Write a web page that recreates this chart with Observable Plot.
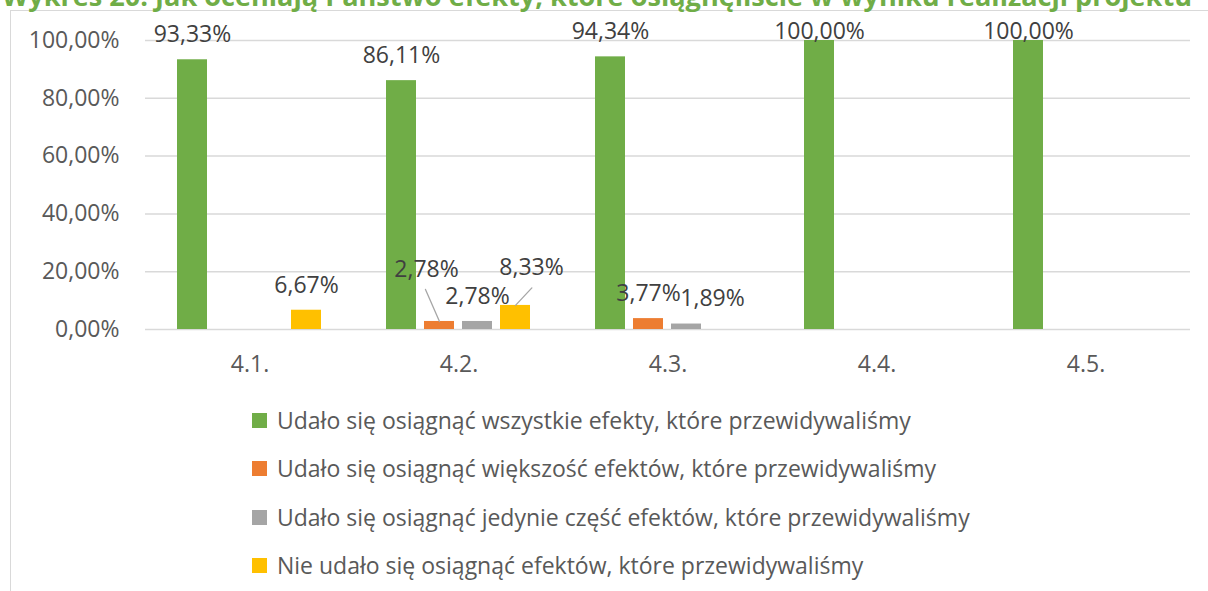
<!DOCTYPE html>
<html>
<head>
<meta charset="utf-8">
<script src="https://cdn.jsdelivr.net/npm/d3@7"></script>
<script src="https://cdn.jsdelivr.net/npm/@observablehq/plot@0.6"></script>
<style>
  html, body { margin: 0; padding: 0; background: #fff; overflow: hidden; }
  #page { position: relative; width: 1208px; height: 591px; overflow: hidden; font-family: "Open Sans", sans-serif; }
  #frame { position: absolute; left: 10px; top: 10px; width: 1400px; height: 800px; border: 1.5px solid #d9d9d9; box-sizing: border-box; }
  #title { position: absolute; left: 2px; top: -15px; font-weight: bold; color: #70ad47; font-size: 24px; line-height: 24px; white-space: nowrap; }
  #chart { position: absolute; left: 0; top: 0; }
  #legend { position: absolute; left: 252px; top: 0; }
  .item { position: absolute; left: 0; display: flex; align-items: center; white-space: nowrap; color: #595959; font-size: 23px; transform: translateY(-50%); }
  .sw { width: 15px; height: 15px; margin-right: 10px; flex: none; }
</style>
</head>
<body>
<div id="page">
  <div id="frame"></div>
  <div id="title"></div>
  <div id="chart"></div>
  <div id="legend"></div>
</div>
<script>
const titleText = "Wykres 20. Jak oceniają Państwo efekty, które osiągnęliście w wyniku realizacji projektu";
const categories = ["4.1.", "4.2.", "4.3.", "4.4.", "4.5."];
const seriesNames = [
  "Udało się osiągnąć wszystkie efekty, które przewidywaliśmy",
  "Udało się osiągnąć większość efektów, które przewidywaliśmy",
  "Udało się osiągnąć jedynie część efektów, które przewidywaliśmy",
  "Nie udało się osiągnąć efektów, które przewidywaliśmy"
];
const seriesColors = ["#70AD47", "#ED7D31", "#A5A5A5", "#FFC000"];
const allEffects  = [93.33, 86.11, 94.34, 100, 100];
const mostEffects = [0, 2.78, 3.77, 0, 0];
const partEffects = [0, 2.78, 1.89, 0, 0];
const noEffects   = [6.67, 8.33, 0, 0, 0];
const yTicks = [0, 20, 40, 60, 80, 100];

// label placement tweaks (pixels), keyed by category|series index
const labelNudge = {
  "4.2.|1": [-13, -27],
  "4.2.|3": [16, -13],
  "4.3.|2": [26, 0],
  "4.4.|0": [0, 16],
  "4.5.|0": [0, 16]
};
// leader lines: [category, series index, length px, rotate deg]
const leaders = [["4.2.", 1, 35, -23.6], ["4.2.", 3, 24, 43]];

const seriesValues = [allEffects, mostEffects, partEffects, noEffects];
const data = categories.flatMap((c, i) => seriesNames.map((s, j) => ({category: c, series: s, si: j, value: seriesValues[j][i]})));
const fmt = v => v.toFixed(2).replace(".", ",") + "%";

// title
const titleEl = document.getElementById("title");
titleEl.textContent = titleText;
(function fitTitle() {
  const ctx = document.createElement("canvas").getContext("2d");
  ctx.font = 'bold 24px "Open Sans"';
  const w = ctx.measureText(titleText).width;
  const size = 24 * 1190 / w;
  titleEl.style.fontSize = size + "px";
  titleEl.style.lineHeight = size + "px";
  titleEl.style.top = (6 - (size * 1.069 + (size - size * 1.362) / 2)) + "px";
})();

// label marks grouped by nudge
const labelData = data.filter(d => d.value > 0);
const groups = d3.group(labelData, d => (labelNudge[d.category + "|" + d.si] || [0, 0]).join(","));
const labelMarks = [...groups].map(([key, arr]) => {
  const [dx, dy] = key.split(",").map(Number);
  return Plot.text(arr, {
    fx: "category", x: "series", y: "value", text: d => fmt(d.value),
    dx, dy: -25 + dy, lineAnchor: "middle", textAnchor: "middle",
    fill: "#404040", fontSize: 23
  });
});

const lineShape = {draw(context, l) { context.moveTo(0, 0); context.lineTo(0, -l); }};
const leaderMarks = leaders.map(([c, si, len, rot]) =>
  Plot.vector(data.filter(d => d.category === c && d.si === si), {
    fx: "category", x: "series", y: "value", length: len, rotate: rot,
    anchor: "start", shape: lineShape, stroke: "#a6a6a6", strokeWidth: 1.3
  })
);

const chart = Plot.plot({
  width: 1208,
  height: 390,
  marginLeft: 145,
  marginRight: 18,
  marginTop: 40,
  marginBottom: 61,
  style: {fontFamily: "Open Sans", fontSize: "23px", color: "#595959", background: "transparent", overflow: "visible"},
  fx: {domain: categories, padding: 0, label: null},
  x: {domain: seriesNames, paddingInner: 0.21, paddingOuter: 0.855, axis: null},
  y: {domain: [0, 100], ticks: yTicks, label: null},
  color: {domain: seriesNames, range: seriesColors},
  marks: [
    Plot.gridY(yTicks, {stroke: "#d9d9d9", strokeOpacity: 1, strokeWidth: 1.5}),
    Plot.axisY(yTicks, {tickSize: 0, tickPadding: 26, tickFormat: d => d.toFixed(2).replace(".", ",") + "%", fill: "#595959", fontSize: 23, label: null}),
    Plot.axisFx({anchor: "bottom", tickSize: 0, tickPadding: 26, fill: "#595959", fontSize: 23, label: null}),
    Plot.barY(data.filter(d => d.value > 0), {fx: "category", x: "series", y: "value", fill: "series"}),
    ...leaderMarks,
    ...labelMarks
  ]
});
document.getElementById("chart").appendChild(chart);

// legend
const legendRowsY = [420, 468, 517, 565];
const legend = document.getElementById("legend");
seriesNames.forEach((s, i) => {
  const item = document.createElement("div");
  item.className = "item";
  item.style.top = legendRowsY[i] + "px";
  const sw = document.createElement("span");
  sw.className = "sw";
  sw.style.background = seriesColors[i];
  const t = document.createElement("span");
  t.textContent = s;
  item.appendChild(sw);
  item.appendChild(t);
  legend.appendChild(item);
});
</script>
</body>
</html>
